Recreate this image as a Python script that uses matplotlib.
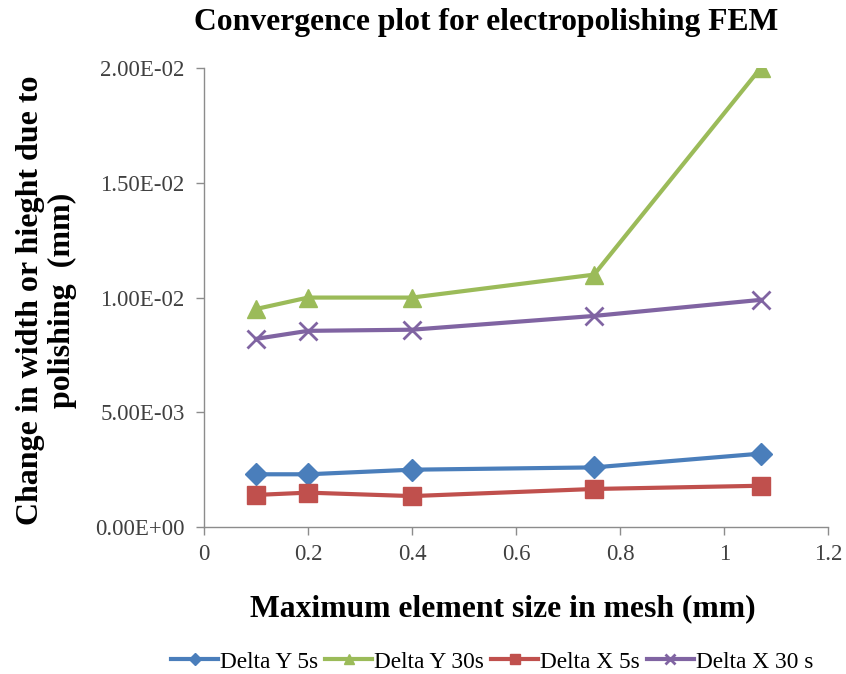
import matplotlib
matplotlib.use("Agg")
import matplotlib.pyplot as plt
from matplotlib.ticker import FuncFormatter, MultipleLocator

mesh_size = [0.1, 0.2, 0.4, 0.75, 1.07]
delta_y_5s = [0.0023, 0.0023, 0.0025, 0.0026, 0.0032]
delta_y_30s = [0.0095, 0.0100, 0.0100, 0.0110, 0.0200]
delta_x_5s = [0.0014, 0.0015, 0.00135, 0.00166, 0.0018]
delta_x_30s = [0.0082, 0.00855, 0.0086, 0.0092, 0.0099]

series = [
    ("Delta Y 5s", delta_y_5s, "#4A7EBB", "D", 11),
    ("Delta Y 30s", delta_y_30s, "#9BBB59", "^", 13),
    ("Delta X 5s", delta_x_5s, "#C0504D", "s", 13),
    ("Delta X 30 s", delta_x_30s, "#8064A2", "x", 13),
]

plt.rcParams["font.family"] = ["Liberation Serif", "DejaVu Serif"]

fig = plt.figure(figsize=(8.46, 6.74), dpi=100)
ax = fig.add_axes([0.241, 0.218, 0.738, 0.681])

for name, vals, color, marker, ms in series:
    kw = dict(color=color, lw=3.0, marker=marker, markersize=ms, label=name)
    if marker == "x":
        kw.update(markeredgewidth=2.0)
    ax.plot(mesh_size, vals, **kw)

ax.set_xlim(0, 1.2)
ax.set_ylim(0, 0.02)
ax.xaxis.set_major_locator(MultipleLocator(0.2))
ax.yaxis.set_major_locator(MultipleLocator(0.005))
ax.xaxis.set_major_formatter(FuncFormatter(lambda v, p: f"{v:g}"))
ax.yaxis.set_major_formatter(FuncFormatter(lambda v, p: f"{v:.2E}"))

for side in ("top", "right"):
    ax.spines[side].set_visible(False)
for side in ("left", "bottom"):
    ax.spines[side].set_color("#8C8C8C")
    ax.spines[side].set_linewidth(1.0)
ax.tick_params(axis="both", colors="#8C8C8C", length=6, width=1.0,
               labelcolor="#404040", labelsize=16.5, direction="out")
ax.tick_params(axis="x", pad=6)
ax.tick_params(axis="y", pad=8)

fig.text(0.575, 0.966, "Convergence plot for electropolishing FEM",
         ha="center", va="center", fontsize=22.8, fontweight="bold")
ax.set_xlabel("Maximum element size in mesh (mm)", fontsize=22.8,
              fontweight="bold")
ax.xaxis.set_label_coords(0.478, -0.147)
fig.text(0.055, 0.555, "Change in width or hieght due to\npolishing  (mm)",
         rotation=90, ha="center", va="center", fontsize=23,
         fontweight="bold", linespacing=1.1, multialignment="center")

leg = fig.legend(loc="center", bbox_to_anchor=(0.582, 0.018), ncol=4,
                 frameon=False, fontsize=16.8, handlelength=2.0,
                 handletextpad=0.1, columnspacing=0.3, markerscale=0.55)

fig.savefig("out.png", dpi=100)
